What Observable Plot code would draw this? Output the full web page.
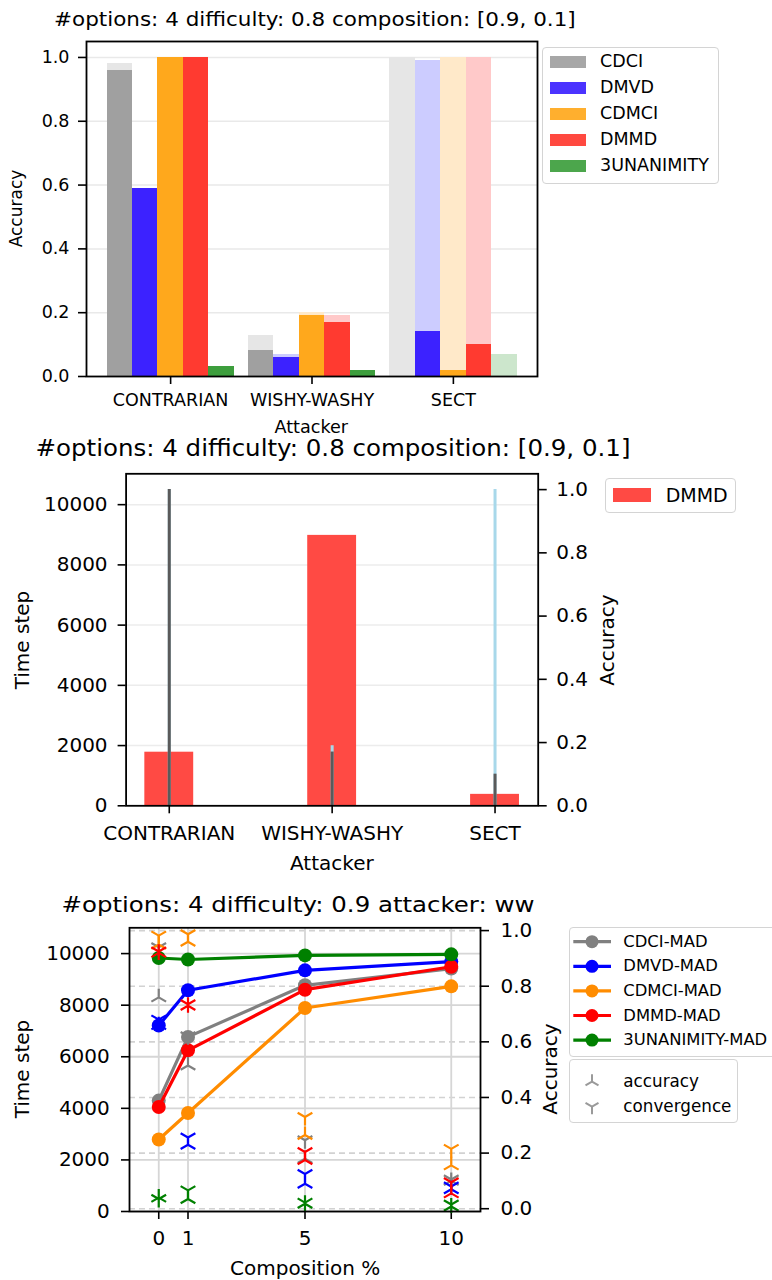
<!DOCTYPE html>
<html><head><meta charset="utf-8">
<script src="https://cdn.jsdelivr.net/npm/d3@7"></script>
<script src="https://cdn.jsdelivr.net/npm/@observablehq/plot@0.6"></script>
<style>
body{margin:0;background:#fff;}
#root{position:relative;width:772px;height:1280px;overflow:hidden;font-family:"DejaVu Sans",sans-serif;color:#000;background:#fff;}
.t{position:absolute;white-space:nowrap;line-height:1;font-family:"DejaVu Sans",sans-serif;}
.box{position:absolute;border:1.5px solid #d4d4d4;border-radius:4px;background:#fff;box-sizing:border-box;}
</style></head><body><div id="root"></div>
<script>
// ---------- DATA ----------
// Panel 1 (accuracy per attacker)
const attackers = ["CONTRARIAN", "WISHY-WASHY", "SECT"];
const algos = ["CDCI", "DMVD", "CDMCI", "DMMD", "3UNANIMITY"];
const accCDCI  = [0.96, 0.08, 0.00];
const accDMVD  = [0.59, 0.06, 0.14];
const accCDMCI = [1.00, 0.19, 0.02];
const accDMMD  = [1.00, 0.17, 0.10];
const acc3UN   = [0.03, 0.02, 0.00];
const lightCDCI  = [0.98, 0.13, 1.00];
const lightDMVD  = [0.59, 0.07, 0.99];
const lightCDMCI = [1.00, 0.20, 1.00];
const lightDMMD  = [1.00, 0.19, 1.00];
const light3UN   = [0.03, 0.02, 0.07];
const solidColors = ["#a0a0a0", "#3c22ff", "#ffa81c", "#ff3a30", "#3d9e3d"];
const lightColors = ["#e6e6e6", "#ccccff", "#ffe9c9", "#ffc9c9", "#cce6cc"];
const yTicks1 = [0, 0.2, 0.4, 0.6, 0.8, 1.0];

// Panel 2 (DMMD time step + accuracy)
const timeDMMD = [1780, 8980, 380];
const accSolid2 = [1.00, 0.17, 0.10];
const accLight2 = [1.00, 0.19, 1.00];
const timeTicks2 = [0, 2000, 4000, 6000, 8000, 10000];
const accTicks = [0, 0.2, 0.4, 0.6, 0.8, 1.0];

// Panel 3 (composition sweep)
const compositions = [0, 1, 5, 10];
const madNames = ["CDCI-MAD", "DMVD-MAD", "CDMCI-MAD", "DMMD-MAD", "3UNANIMITY-MAD"];
const madColors = ["#808080", "#0000ff", "#ff8c00", "#ff0000", "#008000"];
const madCDCI  = [4300, 6770, 8770, 9420];
const madDMVD  = [7210, 8580, 9350, 9690];
const madCDMCI = [2790, 3820, 7890, 8730];
const madDMMD  = [4050, 6250, 8600, 9490];
const mad3UN   = [9830, 9770, 9930, 9970];
const accMarkCDCI  = [0.76, 0.515, 0.18, 0.10];
const accMarkDMVD  = [0.66, 0.23, 0.09, 0.07];
const accMarkCDMCI = [0.95, 0.96, 0.265, 0.156];
const accMarkDMMD  = [0.92, 0.73, 0.175, 0.055];
const accMark3UN   = [0.04, 0.035, 0.018, 0.008];
const convMarkCDCI  = [0.94, 0.62, 0.246, 0.105];
const convMarkDMVD  = [0.68, 0.256, 0.125, 0.08];
const convMarkCDMCI = [0.982, 0.987, 0.33, 0.215];
const convMarkDMMD  = [0.925, 0.735, 0.204, 0.095];
const convMark3UN   = [0.035, 0.066, 0.022, 0.015];
const compTicks = [0, 1, 5, 10];

// ---------- HELPERS ----------
const root = document.getElementById("root");
const FONT = "DejaVu Sans";
function place(svg, top) {
  svg.style.position = "absolute"; svg.style.left = "0px"; svg.style.top = top + "px";
  root.appendChild(svg);
}
function text(txt, cx, cy, size, o = {}) {
  const d = document.createElement("div");
  d.className = "t"; d.textContent = txt; d.style.fontSize = size + "px";
  root.appendChild(d);
  const w = d.offsetWidth, h = d.offsetHeight;
  const sx = o.width ? o.width / w : 1;
  if (o.left) { d.style.left = cx + "px"; } else { d.style.left = (cx - w / 2) + "px"; }
  d.style.top = (cy - h / 2) + "px";
  let tr = "";
  if (o.rotate) tr += `rotate(${o.rotate}deg) `;
  if (sx !== 1) tr += `scaleX(${sx})`;
  d.style.transformOrigin = o.left ? "0 50%" : "50% 50%";
  d.style.transform = tr;
  return d;
}
function box(x, y, w, h) {
  const b = document.createElement("div"); b.className = "box";
  Object.assign(b.style, {left: x + "px", top: y + "px", width: w + "px", height: h + "px"});
  root.appendChild(b); return b;
}
const baseStyle = {fontFamily: FONT, background: "transparent", overflow: "visible", color: "black"};
const fmt1 = d3.format(".1f");

// ---------- PANEL 1 ----------
const solids = [accCDCI, accDMVD, accCDMCI, accDMMD, acc3UN];
const lights = [lightCDCI, lightDMVD, lightCDMCI, lightDMMD, light3UN];
const bars1 = [];
attackers.forEach((a, gi) => algos.forEach((s, si) => {
  bars1.push({g: gi, s: si, solid: solids[si][gi], light: lights[si][gi],
              sc: solidColors[si], lc: lightColors[si]});
}));
const bw = 0.18;
const p1 = Plot.plot({
  width: 772, height: 420,
  marginLeft: 86, marginRight: 235, marginTop: 41, marginBottom: 44,
  x: {domain: [-0.595, 2.595], axis: null},
  y: {domain: [0, 1.05], axis: null},
  color: {type: "identity"},
  style: {...baseStyle, fontSize: "17.5px"},
  marks: [
    Plot.gridY(yTicks1.slice(1), {stroke: "#e9e9e9", strokeOpacity: 1, strokeWidth: 1.5}),
    Plot.rect(bars1, {x1: d => d.g + (d.s - 2) * bw - bw / 2, x2: d => d.g + (d.s - 2) * bw + bw / 2,
      y1: 0, y2: "light", fill: "lc", shapeRendering: "crispEdges"}),
    Plot.rect(bars1, {x1: d => d.g + (d.s - 2) * bw - bw / 2, x2: d => d.g + (d.s - 2) * bw + bw / 2,
      y1: 0, y2: "solid", fill: "sc", shapeRendering: "crispEdges"}),
    Plot.axisY({ticks: yTicks1, tickFormat: fmt1, tickSize: 8, tickPadding: 9, strokeWidth: 1.6, label: null, fontSize: 17.5}),
    Plot.axisX({ticks: [0, 1, 2], tickFormat: i => attackers[i], tickSize: 8, tickPadding: 9, strokeWidth: 1.6, label: null, fontSize: 17.5}),
    Plot.frame({stroke: "black", strokeWidth: 1.8})
  ]
});
place(p1, 0);
text("#options: 4 difficulty: 0.8 composition: [0.9, 0.1]", 315, 19.8, 19.5, {width: 522});
text("Accuracy", 17, 208.5, 17, {rotate: -90});
text("Attacker", 311.5, 428.3, 17.6);
// legend 1
box(542, 47, 177, 137);
algos.forEach((s, i) => {
  const cy = 62 + 26 * i;
  const p = document.createElement("div");
  Object.assign(p.style, {position: "absolute", left: "549.5px", top: (cy - 6) + "px", width: "36px", height: "12px",
    background: solidColors[i], opacity: 0.92});
  root.appendChild(p);
  text(s, 600, cy, 17.5, {left: true});
});

// ---------- PANEL 2 ----------
const rows2 = attackers.map((a, i) => ({i, t: timeDMMD[i], s: accSolid2[i], l: accLight2[i]}));
const m2 = {width: 772, height: 380, marginLeft: 125.6, marginRight: 234.3, marginTop: 13.3, marginBottom: 34.7};
const p2a = Plot.plot({
  ...m2,
  x: {domain: [-0.265, 2.265], axis: null},
  y: {domain: [0, 11025], axis: null},
  style: {...baseStyle, fontSize: "20px"},
  marks: [
    Plot.gridY(timeTicks2.slice(1), {stroke: "#ececec", strokeOpacity: 1, strokeWidth: 1.5}),
    Plot.rect(rows2, {x1: d => d.i - 0.15, x2: d => d.i + 0.15, y1: 0, y2: "t", fill: "#ff4a44"}),
    Plot.axisY({ticks: timeTicks2, tickFormat: d => String(d), tickSize: 8, tickPadding: 10.5, strokeWidth: 1.6, label: null, fontSize: 20}),
    Plot.axisX({ticks: [0, 1, 2], tickFormat: i => attackers[i], tickSize: 8, tickPadding: 12, strokeWidth: 1.6, label: null, fontSize: 20}),
  ]
});
place(p2a, 460);
const p2b = Plot.plot({
  ...m2,
  x: {domain: [-0.265, 2.265], axis: null},
  y: {domain: [0, 1.05], axis: null},
  style: {...baseStyle, fontSize: "20px"},
  marks: [
    Plot.ruleX(rows2, {x: "i", y1: 0, y2: "l", stroke: "#a8d8ea", strokeWidth: 3}),
    Plot.ruleX(rows2, {x: "i", y1: 0, y2: "s", stroke: "#5a5a5a", strokeWidth: 3}),
    Plot.axisY({anchor: "right", ticks: accTicks, tickFormat: fmt1, tickSize: 8, tickPadding: 10, strokeWidth: 1.6, label: null, fontSize: 20}),
    Plot.frame({stroke: "black", strokeWidth: 1.8})
  ]
});
place(p2b, 460);
text("#options: 4 difficulty: 0.8 composition: [0.9, 0.1]", 332.5, 448, 22.4, {width: 595});
text("Time step", 22.1, 640, 20, {rotate: -90});
text("Accuracy", 606.6, 640, 20, {rotate: -90});
text("Attacker", 332, 862.5, 20);
// legend 2
box(604.6, 478.3, 131, 35);
{
  const p = document.createElement("div");
  Object.assign(p.style, {position: "absolute", left: "613px", top: "488px", width: "38px", height: "13.7px", background: "#ff4a44"});
  root.appendChild(p);
  text("DMMD", 665.7, 495, 19, {left: true});
}

// ---------- PANEL 3 ----------
const mads = [madCDCI, madDMVD, madCDMCI, madDMMD, mad3UN];
const accMarks = [accMarkCDCI, accMarkDMVD, accMarkCDMCI, accMarkDMMD, accMark3UN];
const convMarks = [convMarkCDCI, convMarkDMVD, convMarkCDMCI, convMarkDMMD, convMark3UN];
const m3 = {width: 772, height: 340, marginLeft: 129, marginRight: 292, marginTop: 12.3, marginBottom: 44};
const xd3 = [-1, 11];
const triUp = {draw(ctx, size) { const r = Math.sqrt(size / Math.PI);
  ctx.moveTo(0, 0); ctx.lineTo(0, -r); ctx.moveTo(0, 0); ctx.lineTo(-0.866 * r, 0.5 * r);
  ctx.moveTo(0, 0); ctx.lineTo(0.866 * r, 0.5 * r); }};
const triDown = {draw(ctx, size) { const r = Math.sqrt(size / Math.PI);
  ctx.moveTo(0, 0); ctx.lineTo(0, r); ctx.moveTo(0, 0); ctx.lineTo(-0.866 * r, -0.5 * r);
  ctx.moveTo(0, 0); ctx.lineTo(0.866 * r, -0.5 * r); }};

const p3a = Plot.plot({
  ...m3, x: {domain: xd3, axis: null}, y: {domain: [-0.01, 1.01], axis: null},
  style: {...baseStyle, fontSize: "20px"},
  marks: [Plot.gridY(accTicks, {stroke: "#d2d2d2", strokeOpacity: 1, strokeWidth: 1.6, strokeDasharray: "6,4"})]
});
place(p3a, 915);

const lineMarks = [];
mads.forEach((arr, si) => {
  const rows = compositions.map((c, j) => ({c, v: arr[j]}));
  lineMarks.push(Plot.line(rows, {x: "c", y: "v", stroke: madColors[si], strokeWidth: 3.2}));
  lineMarks.push(Plot.dot(rows, {x: "c", y: "v", fill: madColors[si], r: 7}));
});
const p3b = Plot.plot({
  ...m3, x: {domain: xd3, axis: null}, y: {domain: [0, 11000], axis: null},
  style: {...baseStyle, fontSize: "20px"},
  marks: [
    Plot.gridY(timeTicks2, {stroke: "#d6d6d6", strokeOpacity: 1, strokeWidth: 1.8}),
    Plot.gridX(compTicks, {stroke: "#d6d6d6", strokeOpacity: 1, strokeWidth: 1.8}),
    ...lineMarks,
    Plot.axisY({ticks: timeTicks2, tickFormat: d => String(d), tickSize: 8, tickPadding: 11.7, strokeWidth: 1.6, label: null, fontSize: 20}),
    Plot.axisX({ticks: compTicks, tickFormat: d => String(d), tickSize: 8, tickPadding: 11.7, strokeWidth: 1.6, label: null, fontSize: 20}),
  ]
});
place(p3b, 915);

const markMarks = [];
madColors.forEach((col, si) => {
  const ra = compositions.map((c, j) => ({c, v: accMarks[si][j]}));
  const rc = compositions.map((c, j) => ({c, v: convMarks[si][j]}));
  markMarks.push(Plot.dot(ra, {x: "c", y: "v", symbol: triUp, r: 8.5, stroke: col, fill: "none", strokeWidth: 2.2}));
  markMarks.push(Plot.dot(rc, {x: "c", y: "v", symbol: triDown, r: 8.5, stroke: col, fill: "none", strokeWidth: 2.2}));
});
const p3c = Plot.plot({
  ...m3, x: {domain: xd3, axis: null}, y: {domain: [-0.01, 1.01], axis: null},
  style: {...baseStyle, fontSize: "20px"},
  marks: [
    ...markMarks,
    Plot.axisY({anchor: "right", ticks: accTicks, tickFormat: fmt1, tickSize: 8, tickPadding: 12, strokeWidth: 1.6, label: null, fontSize: 20}),
    Plot.frame({stroke: "black", strokeWidth: 1.8})
  ]
});
place(p3c, 915);

text("#options: 4 difficulty: 0.9 attacker: ww", 297.5, 905, 21.5, {width: 473});
text("Time step", 22.6, 1069, 20, {rotate: -90});
text("Accuracy", 549.3, 1069, 20, {rotate: -90});
text("Composition %", 305, 1267.7, 20);

// legend 3
box(569, 927.3, 240, 129.4);
box(569, 1059.3, 169.3, 63.4);
const lg = d3.select(root).append("svg").attr("width", 772).attr("height", 1280)
  .style("position", "absolute").style("left", "0px").style("top", "0px").style("pointer-events", "none");
madNames.forEach((n, i) => {
  const cy = 941.7 + 24.6 * i;
  lg.append("line").attr("x1", 573.3).attr("x2", 611).attr("y1", cy).attr("y2", cy)
    .attr("stroke", madColors[i]).attr("stroke-width", 3.2);
  lg.append("circle").attr("cx", 592).attr("cy", cy).attr("r", 6.5).attr("fill", madColors[i]);
  text(n, 623.3, cy, 16.4, {left: true});
});
[["accuracy", triUp, 1081.7], ["convergence", triDown, 1106.7]].forEach(([n, sym, cy]) => {
  lg.append("path").attr("d", d3.symbol(sym, 7.5 * 7.5 * Math.PI)()).attr("transform", `translate(592,${cy})`)
    .attr("stroke", "#9a9a9a").attr("stroke-width", 2).attr("fill", "none");
  text(n, 623.3, cy, 16.8, {left: true});
});
</script></body></html>
